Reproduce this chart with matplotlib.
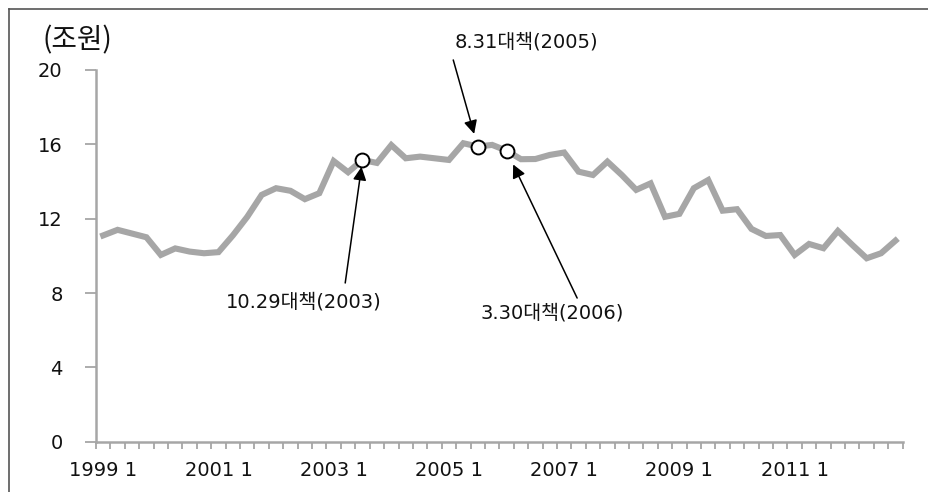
import matplotlib
matplotlib.use("Agg")
import matplotlib.pyplot as plt
from matplotlib.lines import Line2D

plt.rcParams['font.family'] = ['DejaVu Sans', 'Noto Sans CJK KR']

# Quarterly series, 1999 Q1 - 2012 Q4 (unit: 조원)
years = list(range(1999, 2013))
quarters = [f"{y} {q}" for y in years for q in range(1, 5)]
values = [
    11.1, 11.4, 11.2, 11.0, 10.05, 10.4, 10.23, 10.14,
    10.2, 11.1, 12.1, 13.28, 13.64, 13.5, 13.05, 13.37,
    15.1, 14.5, 15.16, 15.0, 15.96, 15.25, 15.34, 15.25,
    15.16, 16.06, 15.88, 15.97, 15.66, 15.2, 15.21, 15.43,
    15.56, 14.53, 14.35, 15.07, 14.35, 13.55, 13.9, 12.1,
    12.26, 13.64, 14.08, 12.43, 12.51, 11.45, 11.07, 11.12,
    10.05, 10.64, 10.41, 11.34, 10.59, 9.87, 10.14, 10.82,
]
yticks = [0, 4, 8, 12, 16, 20]

# Policy announcements: label, quarter index of the marked point, text position, arrow tail
events = [
    ("10.29대책(2003)", 18, (13.94, 7.54), (16.8, 8.54), 5),
    ("8.31대책(2005)", 26, (29.35, 21.51), (24.3, 20.54), 9.5),
    ("3.30대책(2006)", 28, (31.15, 6.93), (32.9, 7.73), 11),
]

W, H, DPI = 929, 492, 100
fig = plt.figure(figsize=(W / DPI, H / DPI), dpi=DPI)
ax = fig.add_axes([96 / W, 1 - 441.7 / H, (902.7 - 96) / W, (441.7 - 70) / H])

x = list(range(len(values)))
axis_gray = "#A6A6A6"
ax.plot(x, values, color="#A6A6A6", lw=4.4, solid_joinstyle="miter", zorder=2)

ax.set_xlim(-0.5, len(values) - 0.5)
ax.set_ylim(0, 20)

for s in ("top", "right"):
    ax.spines[s].set_visible(False)
for s in ("left", "bottom"):
    ax.spines[s].set_color(axis_gray)
    ax.spines[s].set_linewidth(1.8)

ax.set_yticks(yticks)
ax.set_yticklabels([str(v) for v in yticks])
ax.tick_params(axis="y", length=8, width=1.3, color=axis_gray, pad=16,
               labelsize=14, labelcolor="#111111")

# category boundaries carry the tick marks, labels sit at category centres
ax.set_xticks([i - 0.5 for i in range(len(values) + 1)])
ax.set_xticklabels([])
ax.tick_params(axis="x", which="major", length=5, width=1.3, color=axis_gray, direction="out")
label_pos = [i for i, q in enumerate(quarters) if q.endswith(" 1") and int(q[:4]) % 2 == 1]
ax.set_xticks(label_pos, minor=True)
ax.set_xticklabels([quarters[i] for i in label_pos], minor=True)
ax.tick_params(axis="x", which="minor", length=0, pad=14, labelsize=14, labelcolor="#111111")

for label, idx, txt, tail, shrink in events:
    yv = values[idx]
    ax.plot([idx], [yv], marker="o", ms=10, mfc="white", mec="black", mew=1.4,
            zorder=4, clip_on=False)
    ax.annotate("", xy=(idx, yv), xytext=tail,
                arrowprops=dict(arrowstyle="-|>", color="black", lw=1.1,
                                mutation_scale=20, shrinkA=0, shrinkB=shrink),
                annotation_clip=False, zorder=3)
    ax.text(txt[0], txt[1], label, ha="center", va="center", fontsize=14,
            color="#111111", clip_on=False)

fig.text(77.5 / W, 1 - 40 / H, "(조원)", ha="center", va="center", fontsize=20,
         color="#111111", family=["Noto Sans CJK KR", "DejaVu Sans"])

# outer frame (left and top edges)
frame = "#555555"
fig.add_artist(Line2D([9 / W, 9 / W], [0, 1 - 9 / H], transform=fig.transFigure,
                      color=frame, lw=1.2))
fig.add_artist(Line2D([9 / W, 1], [1 - 9 / H, 1 - 9 / H], transform=fig.transFigure,
                      color=frame, lw=1.2))

fig.savefig("out.png", dpi=DPI)
